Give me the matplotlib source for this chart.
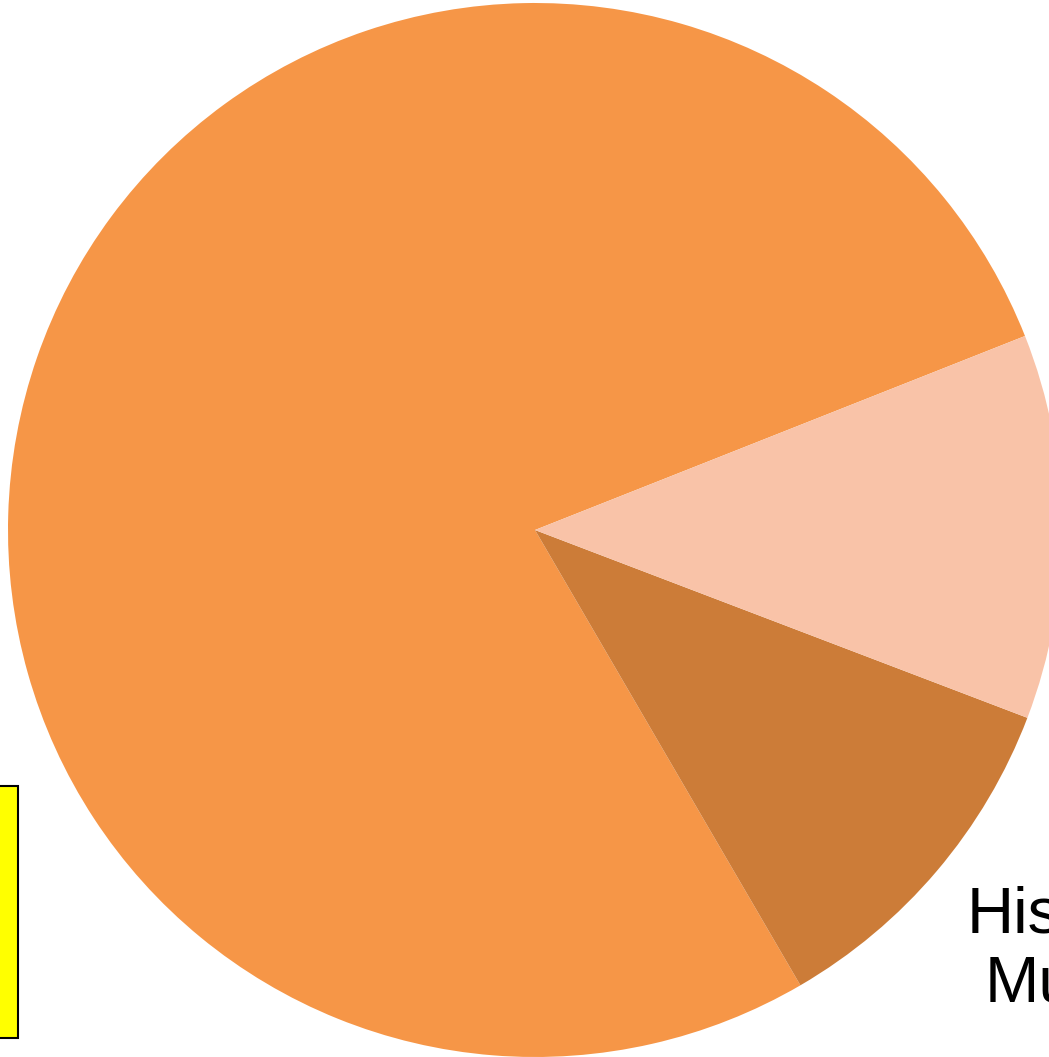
import matplotlib
matplotlib.use("Agg")
import matplotlib.pyplot as plt

plt.rcParams["font.family"] = "sans-serif"
plt.rcParams["font.sans-serif"] = ["Liberation Sans", "Arial", "DejaVu Sans"]

# slice data, counter-clockwise from the start angle
categories = ["Other Museums", "Historical Museum", "Science Museum"]
shares = [77.4, 10.8, 11.8]
colors = ["#F69647", "#CC7C38", "#F9C3A8"]

W, H = 1049, 1057
cx, cy, r = 535, 530, 527  # pie centre / radius in pixels

fig = plt.figure(figsize=(W / 100, H / 100), dpi=100)
ax = fig.add_axes([0, 0, 1, 1])

wedges, texts = ax.pie(
    shares,
    colors=colors,
    labels=["", "Historical\nMuseum", ""],
    startangle=21.6,
    radius=1.0,
    wedgeprops=dict(linewidth=0),
    textprops=dict(fontsize=47, color="black",
                   family=["Liberation Sans Narrow", "Liberation Sans"]),
)

# put the visible label roughly where it sits in the reference
lab = texts[1]
lab.set_position(((1101 - cx) / r, (cy - 950) / r))
lab.set_horizontalalignment("center")
lab.set_verticalalignment("center")
lab.set_multialignment("right")
lab.set_linespacing(1.2)

ax.set_xlim(-cx / r, (W - cx) / r)
ax.set_ylim((cy - H) / r, cy / r)
ax.set_aspect("equal")
ax.axis("off")

leg = ax.legend(
    wedges, categories,
    loc="lower right",
    bbox_to_anchor=(18 / W, 1 - 1038 / H),
    bbox_transform=fig.transFigure,
    prop=dict(family="Liberation Sans", size=30),
    frameon=True,
    fancybox=False,
    borderaxespad=0,
    labelspacing=0.74,
    borderpad=0.85,
)
frame = leg.get_frame()
frame.set_facecolor("#FFFF00")
frame.set_edgecolor("black")
frame.set_linewidth(1.5)
frame.set_alpha(1)

fig.savefig("out.png", dpi=100)
